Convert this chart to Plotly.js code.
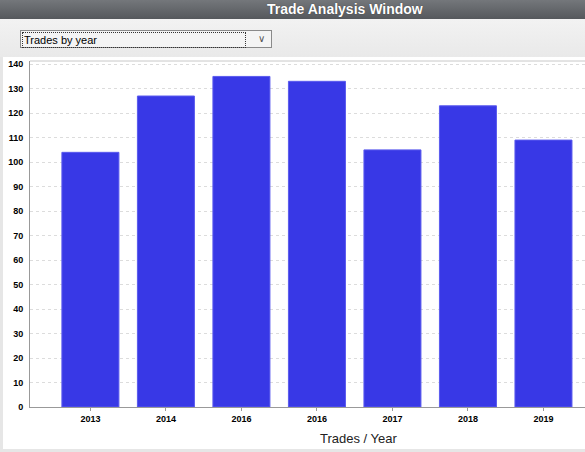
<!DOCTYPE html>
<html>
<head>
<meta charset="utf-8">
<script src="https://cdn.plot.ly/plotly-3.0.1.min.js"></script>
<style>
  html, body { margin:0; padding:0; }
  body { width:585px; height:452px; overflow:hidden; background:#e6e6e6; position:relative; font-family:"Liberation Sans", Arial, sans-serif; }
  #titlebar { position:absolute; left:0; top:0; width:585px; height:19px;
    background:linear-gradient(#74777b, #55585c); color:#fff; font-weight:bold; font-size:14px;
    line-height:19px; }
  #titlebar span { position:absolute; left:267px; top:0; text-shadow:0 0 1px #333; }
  #panel { position:absolute; left:0; top:19px; width:585px; height:38px;
    background:linear-gradient(#f2f2f2, #e9e9e9); }
  #dd { position:absolute; left:20px; top:30px; width:252px; height:18px; background:#f4f4f4;
    border:1px solid #8a8a8a; box-sizing:border-box; }
  #dd .txt { position:absolute; left:1px; top:1px; width:221px; height:14px; border:1px dotted #333;
    font-size:11px; line-height:14px; padding-left:1px; color:#000; }
  #dd .arr { position:absolute; right:6px; top:2px; font-size:10px; color:#555; }
  #plot { position:absolute; left:3px; top:57px; width:582px; height:392px; }
</style>
</head>
<body>
<div id="titlebar"><span>Trade Analysis Window</span></div>
<div id="panel"></div>
<div id="dd"><div class="txt">Trades by year</div><div class="arr">&#8744;</div></div>
<div id="plot"></div>
<script>
const tickLabels = ["2013", "2014", "2016", "2016", "2017", "2018", "2019"];
const trades = [104, 127, 135, 133, 105, 123, 109];
const yTicks = [0, 10, 20, 30, 40, 50, 60, 70, 80, 90, 100, 110, 120, 130, 140];
const positions = tickLabels.map((_, i) => i);

const trace = {
  type: "bar",
  x: positions,
  y: trades,
  width: 0.755,
  marker: { color: "#3838e6", line: { color: "#5a5aee", width: 1 } },
  hoverinfo: "none"
};

const tickFont = { family: "Liberation Sans Narrow, Arial Narrow, sans-serif", size: 9, weight: "bold", color: "#000" };

const layout = {
  width: 582, height: 392,
  margin: { l: 27, r: 0, t: 4, b: 42 },
  paper_bgcolor: "#ffffff",
  plot_bgcolor: "#ffffff",
  showlegend: false,
  xaxis: {
    range: [-0.8, 6.55],
    tickvals: positions,
    ticktext: tickLabels,
    ticks: "outside", ticklen: 3, tickcolor: "#999",
    showgrid: false, zeroline: false,
    showline: true, linecolor: "#999", linewidth: 1,
    tickfont: tickFont,
    fixedrange: true
  },
  yaxis: {
    range: [0, 141.3],
    tickvals: yTicks,
    ticks: "outside", ticklen: 4, tickcolor: "rgba(0,0,0,0)",
    showgrid: true, gridcolor: "#dcdcdc", griddash: "dot", gridwidth: 1,
    zeroline: false,
    showline: true, linecolor: "#999", linewidth: 1,
    tickfont: tickFont,
    fixedrange: true
  },
  shapes: [
    { type: "line", xref: "paper", yref: "paper", x0: 0, x1: 1, y0: 1, y1: 1, line: { color: "#c8c8c8", width: 1 } }
  ],
  annotations: [
    { text: "Trades / Year", xref: "paper", yref: "paper", x: 0.593, y: -0.09, xanchor: "center", yanchor: "middle",
      showarrow: false, font: { family: "Liberation Sans, Arial, sans-serif", size: 13, color: "#222" } }
  ]
};

Plotly.newPlot("plot", [trace], layout, { displayModeBar: false, staticPlot: true });
</script>
</body>
</html>
